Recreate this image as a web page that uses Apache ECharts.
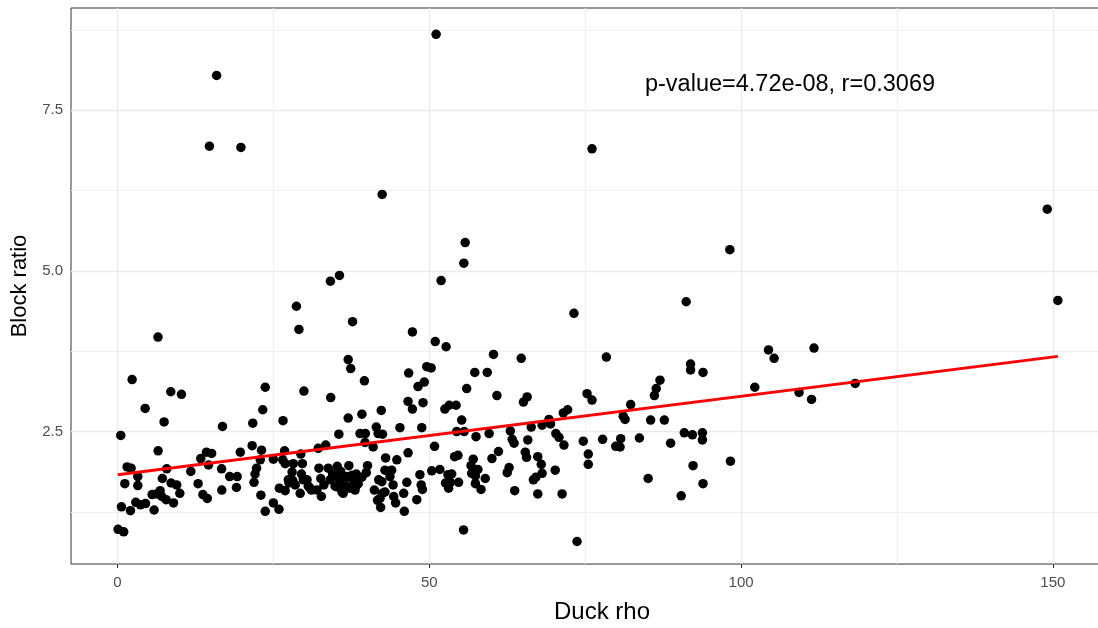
<!DOCTYPE html>
<html>
<head>
<meta charset="utf-8">
<script src="https://cdn.jsdelivr.net/npm/echarts@6/dist/echarts.min.js"></script>
<style>html,body{margin:0;padding:0;background:#fff}#c{width:1098px;height:628px}</style>
</head>
<body>
<div id="c"></div>
<script>
// ---- data ----
const duckRho = [
6.5,2.35,8.55,10.26,4.44,7.48,0.53,16.84,21.7,6.52,21.6,19.7,14.27,15.1,13.36,14.6,16.7,1.55,2.19,7.9,11.76,3.26,7.2,18.0,19.2,22.3,22.06,21.9,1.18,3.26,8.6,9.5,12.93,19.08,16.73,10.0,5.56,6.84,13.7,14.4,7.1,7.8,8.99,2.94,4.5,3.69,0.64,2.08,5.88,0.1,1.0,6.3,
29.1,37.7,47.3,37.0,37.4,46.7,39.6,23.7,29.9,34.2,23.3,46.6,26.55,37.0,39.2,42.3,47.3,35.5,38.9,39.75,41.5,41.8,42.5,45.3,39.7,41.0,23.1,26.8,29.4,32.2,33.4,46.6,22.9,25.0,26.5,28.2,29.65,43.0,44.8,23.0,23.7,25.0,25.9,25.96,26.9,27.5,28.1,28.5,29.3,29.5,29.8,30.6,31.1,32.3,32.7,32.6,33.1,33.8,34.1,34.5,34.9,35.25,35.6,35.8,36.2,36.5,36.8,37.1,37.2,37.8,38.3,38.4,39.2,40.1,39.9,41.2,41.7,42.4,42.5,42.9,43.7,43.97,44.2,44.3,44.6,42.2,45.9,46.0,46.4,
26.9,28.0,27.4,30.4,30.9,32.0,35.2,36.2,37.6,38.6,35.2,36.0,36.8,38.1,42.1,42.9,41.9,
50.96,52.7,60.3,64.75,49.6,50.3,57.3,59.3,49.2,48.2,56.0,60.85,65.7,65.1,49.0,52.5,53.2,54.3,55.2,48.8,54.4,55.6,57.5,59.6,63.0,66.35,68.1,69.2,69.45,71.5,70.3,70.8,71.6,63.3,63.6,65.8,50.85,61.1,65.4,65.6,67.4,67.96,60.05,54.6,54.06,57.05,56.7,57.8,56.8,57.4,58.98,62.8,62.5,68.1,67.1,66.7,70.2,50.4,51.7,48.5,53.0,53.6,52.6,53.4,54.7,53.1,57.4,58.3,48.7,48.9,48.0,63.7,67.4,71.3,55.5,
78.4,91.9,91.9,93.9,87.0,86.4,86.1,75.3,76.1,72.2,82.3,81.1,81.4,85.5,87.7,74.7,77.8,80.7,79.9,80.6,83.7,88.7,90.9,92.2,93.8,93.8,75.5,75.5,92.3,85.1,93.9,90.4,73.7,
98.2,149.1,150.8,104.4,105.3,111.7,102.2,118.3,109.3,111.3,98.3,
51.1,76.1,55.76,55.55,51.9,73.2,91.2,15.9,14.75,19.8,42.45,35.6,34.15,28.7
];
const blockRatio = [
3.97,3.31,3.12,3.08,2.86,2.65,2.44,2.58,2.63,2.2,2.28,2.18,2.18,2.16,2.08,1.98,1.92,1.95,1.93,1.92,1.88,1.8,1.77,1.8,1.8,1.93,1.84,1.71,1.69,1.66,1.7,1.67,1.69,1.63,1.59,1.54,1.52,1.58,1.52,1.46,1.49,1.44,1.39,1.4,1.38,1.36,1.33,1.27,1.28,0.98,0.94,1.53,
4.09,4.21,4.05,3.62,3.48,3.41,3.29,3.19,3.13,3.03,2.84,2.97,2.67,2.71,2.77,2.83,2.85,2.46,2.47,2.47,2.57,2.47,2.46,2.56,2.33,2.26,2.21,2.2,2.15,2.24,2.29,2.17,2.06,2.07,2.06,2.0,2.0,2.09,2.06,1.51,1.26,1.39,1.29,1.62,1.58,1.7,1.74,1.67,1.54,1.84,1.75,1.65,1.59,1.93,1.49,1.77,1.67,1.93,1.75,1.84,1.65,1.96,1.75,1.88,1.54,1.67,1.8,1.97,1.62,1.75,1.84,1.67,1.79,1.97,1.86,1.59,1.43,1.72,1.54,1.9,1.8,1.9,1.67,1.49,1.39,1.32,1.54,1.26,1.71,
2.0,1.87,1.75,1.75,1.62,1.59,1.8,1.77,1.82,1.69,1.64,1.56,1.64,1.59,1.46,1.56,1.75,
3.9,3.82,3.7,3.64,3.51,3.49,3.42,3.42,3.27,3.2,3.17,3.06,3.04,2.96,2.95,2.85,2.91,2.91,2.68,2.56,2.5,2.5,2.42,2.47,2.51,2.57,2.6,2.69,2.62,2.79,2.47,2.41,2.29,2.38,2.32,2.37,2.27,2.19,2.18,2.1,2.11,1.99,2.08,2.13,2.11,2.07,1.97,1.91,1.85,1.81,1.77,1.94,1.86,1.85,1.79,1.75,1.9,1.89,1.91,1.83,1.83,1.84,1.7,1.71,1.71,1.62,1.69,1.6,1.67,1.6,1.44,1.58,1.53,1.53,0.97,
3.66,3.55,3.46,3.42,3.3,3.17,3.06,3.09,2.99,2.84,2.92,2.74,2.69,2.68,2.68,2.35,2.38,2.39,2.27,2.26,2.4,2.32,2.48,2.45,2.48,2.37,2.15,1.99,1.97,1.77,1.69,1.5,0.79,
5.33,5.96,4.54,3.77,3.64,3.8,3.19,3.25,3.11,3.0,2.04,
8.68,6.9,5.44,5.12,4.85,4.34,4.52,8.04,6.94,6.92,6.19,4.93,4.84,4.45
];
// fitted regression line end points
const fitX = [0.05, 150.8];
const fitY = [1.83, 3.67];
// axis ticks
const xMajor = [0, 50, 100, 150];
const xMinor = [25, 75, 125];
const yMajor = [2.5, 5.0, 7.5];
const yMinor = [1.25, 3.75, 6.25, 8.75];
const yTickLabels = ['2.5', '5.0', '7.5'];
const annotation = 'p-value=4.72e-08, r=0.3069';

const FONT = '"Liberation Sans", Arial, Helvetica, sans-serif';
const chart = echarts.init(document.getElementById('c'), null, {renderer: 'canvas'});
const points = duckRho.map((x, i) => [x, blockRatio[i]]);
const gridLines = [];
xMinor.forEach(v => gridLines.push({xAxis: v, lineStyle: {width: 1, color: '#EFEFEF'}}));
yMinor.forEach(v => gridLines.push({yAxis: v, lineStyle: {width: 1, color: '#EFEFEF'}}));
xMajor.forEach(v => gridLines.push({xAxis: v, lineStyle: {width: 1.3, color: '#EBEBEB'}}));
yMajor.forEach(v => gridLines.push({yAxis: v, lineStyle: {width: 1.3, color: '#EBEBEB'}}));

chart.setOption({
  animation: false,
  backgroundColor: '#ffffff',
  title: {
    text: annotation,
    left: 785, top: 68, textAlign: 'center',
    textStyle: {fontFamily: FONT, fontSize: 23.5, fontWeight: 'normal', color: '#000000'}
  },
  grid: {left: 71, width: 1062, top: 8, bottom: 64, show: true, borderColor: '#333333', borderWidth: 1,
    backgroundColor: 'transparent', outerBoundsMode: 'none', containLabel: false},
  xAxis: {
    type: 'value', min: -7.45, max: 162.85,
    name: 'Duck rho', nameLocation: 'middle', nameGap: 36,
    nameTextStyle: {fontFamily: FONT, fontSize: 24, color: '#000000'},
    axisLine: {show: false},
    axisTick: {show: true, customValues: xMajor, length: 4, lineStyle: {color: '#333333', width: 1}},
    axisLabel: {customValues: xMajor, margin: 11, fontFamily: FONT, fontSize: 15, color: '#4D4D4D'},
    splitLine: {show: false}
  },
  yAxis: {
    type: 'value', min: 0.44, max: 9.09,
    name: 'Block ratio', nameLocation: 'middle', nameGap: 32,
    nameTextStyle: {fontFamily: FONT, fontSize: 22, color: '#000000'},
    axisLine: {show: false},
    axisTick: {show: true, customValues: yMajor, length: 4, lineStyle: {color: '#333333', width: 1}},
    axisLabel: {customValues: yMajor, margin: 8, fontFamily: FONT, fontSize: 15, color: '#4D4D4D',
      formatter: v => yTickLabels[yMajor.indexOf(v)] !== undefined ? yTickLabels[yMajor.indexOf(v)] : String(v)},
    splitLine: {show: false}
  },
  series: [
    {
      type: 'line', data: [], z: 1, silent: true,
      markLine: {silent: true, z: 1, symbol: ['none', 'none'], label: {show: false}, animation: false,
        lineStyle: {type: 'solid'}, data: gridLines}
    },
    {
      type: 'scatter', data: points, symbol: 'circle', symbolSize: 9.5, z: 10,
      itemStyle: {color: '#000000', opacity: 1}
    },
    {
      type: 'line', data: fitX.map((x, i) => [x, fitY[i]]), z: 11, symbol: 'none',
      lineStyle: {color: '#FF0000', width: 3}
    }
  ]
});
</script>
</body>
</html>
